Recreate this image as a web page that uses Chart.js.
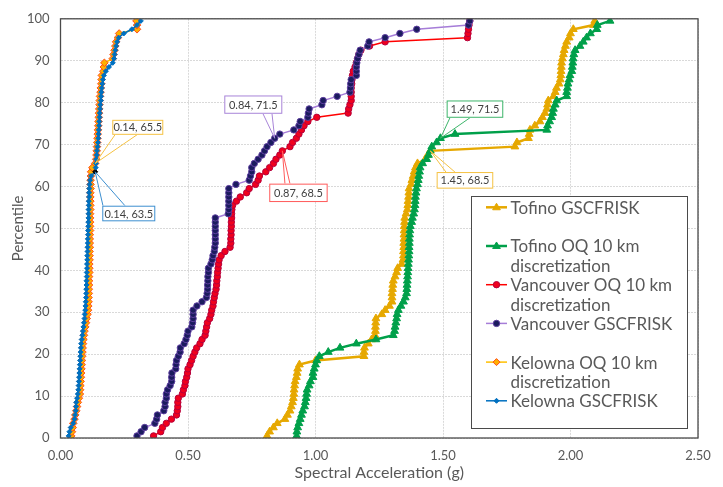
<!DOCTYPE html>
<html>
<head>
<meta charset="utf-8">
<script src="https://cdn.jsdelivr.net/npm/chart.js@4.4.1/dist/chart.umd.min.js"></script>
<style>
  html, body { margin: 0; padding: 0; background: #ffffff; }
  #c { display: block; }
</style>
</head>
<body>
<canvas id="c" width="723" height="487"></canvas>
<script>
// ---------------- DATA ----------------
const percentiles = [0.5,1.5,2.5,3.5,4.5,5.5,6.5,7.5,8.5,9.5,10.5,11.5,12.5,13.5,14.5,15.5,16.5,17.5,18.5,19.5,
  20.5,21.5,22.5,23.5,24.5,25.5,26.5,27.5,28.5,29.5,30.5,31.5,32.5,33.5,34.5,35.5,36.5,37.5,38.5,39.5,
  40.5,41.5,42.5,43.5,44.5,45.5,46.5,47.5,48.5,49.5,50.5,51.5,52.5,53.5,54.5,55.5,56.5,57.5,58.5,59.5,
  60.5,61.5,62.5,63.5,64.5,65.5,66.5,67.5,68.5,69.5,70.5,71.5,72.5,73.5,74.5,75.5,76.5,77.5,78.5,79.5,
  80.5,81.5,82.5,83.5,84.5,85.5,86.5,87.5,88.5,89.5,90.5,91.5,92.5,93.5,94.5,95.5,96.5,97.5,98.5,99.5];

const tofinoGSC = [0.81,0.82,0.835,0.85,0.88,0.89,0.90,0.905,0.91,0.913,
  0.915,0.916,0.918,0.92,0.925,0.928,0.93,0.937,1.00,1.19,
  1.19,1.192,1.207,1.22,1.233,1.235,1.235,1.236,1.237,1.26,
  1.273,1.29,1.30,1.30,1.30,1.302,1.303,1.305,1.312,1.318,
  1.322,1.338,1.343,1.345,1.345,1.346,1.346,1.347,1.347,1.348,
  1.348,1.349,1.35,1.355,1.36,1.362,1.363,1.365,1.366,1.367,
  1.375,1.378,1.383,1.387,1.392,1.40,1.43,1.44,1.45,1.782,
  1.79,1.835,1.838,1.841,1.86,1.88,1.89,1.90,1.907,1.91,
  1.913,1.933,1.94,1.945,1.955,1.96,1.962,1.963,1.964,1.965,
  1.968,1.972,1.975,1.98,1.985,1.995,2.0,2.011,2.09,2.095];

const tofinoOQ = [0.926,0.927,0.93,0.935,0.94,0.945,0.95,0.957,0.96,0.963,
  0.965,0.967,0.975,0.98,0.99,0.99,0.995,1.0,1.005,1.015,
  1.05,1.096,1.16,1.237,1.305,1.31,1.312,1.315,1.318,1.32,
  1.325,1.335,1.345,1.352,1.357,1.358,1.359,1.36,1.361,1.362,
  1.363,1.364,1.365,1.366,1.367,1.367,1.368,1.368,1.369,1.37,
  1.372,1.377,1.38,1.385,1.388,1.39,1.391,1.392,1.394,1.396,
  1.40,1.403,1.405,1.408,1.41,1.42,1.436,1.443,1.45,1.456,
  1.475,1.49,1.547,1.907,1.91,1.918,1.926,1.93,1.933,1.94,
  1.946,1.985,1.985,1.988,1.99,1.995,1.998,2.005,2.007,2.009,
  2.01,2.013,2.018,2.037,2.05,2.063,2.078,2.103,2.105,2.155];

const vancouverOQ = [0.365,0.393,0.40,0.415,0.435,0.455,0.458,0.46,0.46,0.462,
  0.478,0.482,0.488,0.49,0.495,0.498,0.50,0.508,0.514,0.52,
  0.527,0.534,0.547,0.555,0.567,0.57,0.573,0.576,0.585,0.59,
  0.593,0.598,0.60,0.603,0.606,0.61,0.612,0.613,0.615,0.616,
  0.618,0.62,0.622,0.63,0.645,0.665,0.668,0.668,0.669,0.669,
  0.67,0.67,0.671,0.671,0.672,0.675,0.69,0.705,0.73,0.74,
  0.765,0.775,0.78,0.805,0.82,0.835,0.845,0.86,0.87,0.90,
  0.91,0.925,0.935,0.945,0.955,0.97,1.005,1.128,1.13,1.135,
  1.14,1.14,1.14,1.14,1.142,1.143,1.145,1.148,1.155,1.16,
  1.165,1.17,1.178,1.212,1.273,1.596,1.598,1.60,1.602,1.605];

const vancouverGSC = [0.30,0.316,0.33,0.37,0.377,0.38,0.405,0.41,0.41,0.415,
  0.415,0.42,0.43,0.436,0.436,0.437,0.452,0.453,0.455,0.462,
  0.469,0.47,0.485,0.492,0.497,0.50,0.515,0.518,0.52,0.52,
  0.52,0.535,0.555,0.572,0.575,0.577,0.577,0.578,0.578,0.58,
  0.58,0.59,0.595,0.598,0.603,0.605,0.607,0.607,0.607,0.607,
  0.607,0.607,0.607,0.658,0.66,0.66,0.66,0.66,0.66,0.66,
  0.688,0.74,0.745,0.75,0.75,0.76,0.775,0.79,0.80,0.81,
  0.825,0.84,0.86,0.915,0.935,0.94,0.97,0.972,0.975,1.025,
  1.03,1.085,1.135,1.137,1.138,1.14,1.16,1.16,1.16,1.162,
  1.165,1.17,1.175,1.205,1.21,1.273,1.331,1.397,1.60,1.605];

const kelownaOQ = [0.042,0.045,0.048,0.05,0.055,0.058,0.062,0.065,0.068,0.072,
  0.076,0.077,0.078,0.079,0.08,0.081,0.082,0.083,0.084,0.085,
  0.086,0.087,0.088,0.09,0.092,0.094,0.097,0.10,0.103,0.106,
  0.108,0.109,0.11,0.11,0.111,0.111,0.112,0.112,0.112,0.113,
  0.113,0.113,0.114,0.114,0.114,0.115,0.115,0.115,0.115,0.116,
  0.116,0.116,0.116,0.116,0.117,0.117,0.117,0.117,0.117,0.118,
  0.118,0.118,0.119,0.12,0.125,0.136,0.14,0.141,0.142,0.143,
  0.144,0.145,0.146,0.147,0.148,0.149,0.15,0.151,0.152,0.153,
  0.154,0.155,0.157,0.158,0.16,0.161,0.162,0.168,0.17,0.172,
  0.205,0.208,0.212,0.215,0.218,0.225,0.23,0.30,0.30,0.298];

const kelownaGSC = [0.032,0.035,0.04,0.05,0.055,0.057,0.06,0.061,0.062,0.065,
  0.068,0.07,0.071,0.072,0.073,0.074,0.075,0.076,0.077,0.078,
  0.079,0.08,0.081,0.083,0.086,0.088,0.09,0.092,0.094,0.095,
  0.097,0.098,0.099,0.10,0.101,0.101,0.102,0.102,0.103,0.103,
  0.104,0.104,0.105,0.105,0.106,0.106,0.107,0.107,0.108,0.108,
  0.109,0.109,0.11,0.11,0.11,0.111,0.111,0.112,0.112,0.113,
  0.114,0.116,0.12,0.136,0.138,0.139,0.14,0.142,0.143,0.145,
  0.147,0.148,0.149,0.15,0.151,0.152,0.153,0.154,0.155,0.156,
  0.158,0.159,0.16,0.162,0.164,0.166,0.17,0.178,0.19,0.205,
  0.21,0.212,0.215,0.218,0.222,0.228,0.248,0.28,0.30,0.315];

const seriesNames = ['Tofino GSCFRISK', 'Tofino OQ 10 km discretization', 'Vancouver OQ 10 km discretization',
  'Vancouver GSCFRISK', 'Kelowna OQ 10 km discretization', 'Kelowna GSCFRISK'];
const xTicks = [0, 0.5, 1.0, 1.5, 2.0, 2.5];
const yTicks = [0, 10, 20, 30, 40, 50, 60, 70, 80, 90, 100];
const xTitle = 'Spectral Acceleration (g)';
const yTitle = 'Percentile';
// highlighted points with data labels: [series index, point index]
const labelledPoints = [[4, 65], [5, 63], [3, 71], [2, 68], [1, 71], [0, 68]];

// ---------------- STYLE ----------------
const FONT = 'Lato, "DejaVu Sans", sans-serif';
const GRAY = '#595959';
const styles = [
  { line: '#E6A800', fill: '#E6A800', border: '#E6A800', shape: 'triangle', r: 4.5, lw: 2.5, bw: 1 },
  { line: '#00A04A', fill: '#00A04A', border: '#00A04A', shape: 'triangle', r: 4.5, lw: 2.5, bw: 1 },
  { line: '#FF0000', fill: '#F0001E', border: '#B4003C', shape: 'circle', r: 3.2, lw: 1.5, bw: 1 },
  { line: '#A67DD8', fill: '#1B1B5E', border: '#5E3FA0', shape: 'circle', r: 3.2, lw: 1.5, bw: 1 },
  { line: '#FFC000', fill: '#FFB000', border: '#FF4E1A', shape: 'rectRot', r: 3.8, lw: 1.5, bw: 1 },
  { line: '#0070C0', fill: '#0070C0', border: '#0070C0', shape: 'rectRot', r: 2.5, lw: 1.5, bw: 1 }
];
const seriesValues = [tofinoGSC, tofinoOQ, vancouverOQ, vancouverGSC, kelownaOQ, kelownaGSC];

const datasets = seriesValues.map((vals, si) => {
  const st = styles[si];
  return {
    label: seriesNames[si],
    data: percentiles.map((p, i) => ({ x: vals[i], y: p })),
    showLine: true,
    borderColor: st.line,
    borderWidth: st.lw,
    pointStyle: st.shape,
    pointRadius: st.r,
    pointBorderWidth: st.bw,
    pointBackgroundColor: (ctx) => (si === 5 && ctx.dataIndex === 63) ? '#000000' : st.fill,
    pointBorderColor: (ctx) => (si === 5 && ctx.dataIndex === 63) ? '#000000' : st.border,
    fill: false,
    tension: 0,
    order: 6 - si
  };
});

// callout geometry relative to the labelled point: box offset, size, leader attach
const callouts = [
  { color: '#F5C242', dx: 17.1, dy: -43.6, w: 51, h: 15, edge: 'bottom', b1: 2.7, b2: 24.7 },
  { color: '#3D8FD0', dx: 7.1, dy: 33.9, w: 53, h: 15.6, edge: 'top', b1: 0.7, b2: 22.7 },
  { color: '#A884D8', dx: -50.4, dy: -42.8, w: 58, h: 18.3, edge: 'bottom', b1: 38.7, b2: 47.7 },
  { color: '#FF5A5A', dx: -13.1, dy: 32.8, w: 58.4, h: 18.4, edge: 'top', b1: 15.7, b2: 20.7 },
  { color: '#3DB56A', dx: 6.2, dy: -37.8, w: 56.6, h: 17.3, edge: 'bottom', b1: 3.3, b2: 23.3 },
  { color: '#F5C242', dx: 6.4, dy: 21.2, w: 56.6, h: 16.6, edge: 'top', b1: 9.3, b2: 18.3 }
];

function drawMarker(ctx, st, x, y) {
  ctx.save();
  ctx.fillStyle = st.fill;
  ctx.strokeStyle = st.border;
  ctx.lineWidth = st.bw;
  ctx.beginPath();
  const r = st.r;
  if (st.shape === 'circle') {
    ctx.arc(x, y, r, 0, Math.PI * 2);
  } else if (st.shape === 'triangle') {
    ctx.moveTo(x, y - r * 1.15);
    ctx.lineTo(x + r * 1.1, y + r * 0.7);
    ctx.lineTo(x - r * 1.1, y + r * 0.7);
    ctx.closePath();
  } else {
    ctx.moveTo(x, y - r);
    ctx.lineTo(x + r, y);
    ctx.lineTo(x, y + r);
    ctx.lineTo(x - r, y);
    ctx.closePath();
  }
  ctx.fill();
  ctx.stroke();
  ctx.restore();
}

const framePlugin = {
  id: 'frame',
  afterDatasetsDraw(chart) {
    const ctx = chart.ctx;
    const a = chart.chartArea;
    // data-label callouts
    labelledPoints.forEach((lp, i) => {
      const pt = chart.getDatasetMeta(lp[0]).data[lp[1]];
      const c = callouts[i];
      const px = pt.x, py = pt.y;
      const bx = px + c.dx, by = py + c.dy;
      const ey = c.edge === 'bottom' ? by + c.h : by;
      ctx.save();
      ctx.strokeStyle = c.color;
      ctx.lineWidth = 1;
      ctx.beginPath();
      ctx.moveTo(bx + c.b1, ey); ctx.lineTo(px, py);
      ctx.moveTo(bx + c.b2, ey); ctx.lineTo(px, py);
      ctx.stroke();
      ctx.fillStyle = '#ffffff';
      ctx.fillRect(bx, by, c.w, c.h);
      ctx.strokeRect(bx + 0.5, by + 0.5, c.w - 1, c.h - 1);
      const ds = chart.data.datasets[lp[0]].data[lp[1]];
      ctx.fillStyle = '#404040';
      ctx.font = '11px ' + FONT;
      ctx.textAlign = 'center';
      ctx.textBaseline = 'middle';
      ctx.fillText(ds.x.toFixed(2) + ', ' + ds.y, bx + c.w / 2, by + c.h / 2 + 0.5);
      ctx.restore();
    });
    // plot frame
    ctx.save();
    ctx.strokeStyle = '#4a4a4a';
    ctx.lineWidth = 1.3;
    ctx.strokeRect(a.left, a.top, a.right - a.left, a.bottom - a.top);
    ctx.restore();
  },
  afterDraw(chart) {
    const ctx = chart.ctx;
    // legend box
    const L = 471.5, T = 196.5, R = 687.5, B = 428.5;
    ctx.save();
    ctx.fillStyle = '#ffffff';
    ctx.fillRect(L, T, R - L, B - T);
    ctx.strokeStyle = '#4a4a4a';
    ctx.lineWidth = 1;
    ctx.strokeRect(L, T, R - L, B - T);
    const rowY = (n) => 207.3 + n * 19.35;
    const entries = [
      [0, ['Tofino GSCFRISK'], 0],
      [1, ['Tofino OQ 10 km', 'discretization'], 2],
      [2, ['Vancouver OQ 10 km', 'discretization'], 4],
      [3, ['Vancouver GSCFRISK'], 6],
      [4, ['Kelowna OQ 10 km', 'discretization'], 8],
      [5, ['Kelowna GSCFRISK'], 10]
    ];
    ctx.font = '17px ' + FONT;
    ctx.textBaseline = 'middle';
    ctx.textAlign = 'left';
    entries.forEach(e => {
      const st = styles[e[0]];
      const y = rowY(e[2]);
      ctx.strokeStyle = st.line;
      ctx.lineWidth = st.lw;
      ctx.beginPath();
      ctx.moveTo(486, y); ctx.lineTo(507, y);
      ctx.stroke();
      drawMarker(ctx, Object.assign({}, st, { r: Math.min(st.r, 3.5) }), 496.5, y);
      ctx.fillStyle = GRAY;
      e[1].forEach((t, k) => ctx.fillText(t, 510.5, rowY(e[2] + k) + 1));
    });
    ctx.restore();
  }
};

new Chart(document.getElementById('c'), {
  type: 'scatter',
  data: { datasets },
  options: {
    responsive: false,
    animation: false,
    events: [],
    layout: { padding: { left: 0, right: 25, top: 12, bottom: 0 } },
    plugins: { legend: { display: false }, tooltip: { enabled: false } },
    scales: {
      x: {
        type: 'linear', min: 0, max: 2.5,
        afterBuildTicks: (s) => { s.ticks = xTicks.map(v => ({ value: v })); },
        ticks: { color: GRAY, font: { family: FONT, size: 13 }, padding: 10, callback: (v) => Number(v).toFixed(2) },
        grid: { color: '#d9d9d9', lineWidth: 1, drawTicks: false },
        border: { display: false, dash: [2, 1] },
        title: { display: true, text: xTitle, color: GRAY, font: { family: FONT, size: 16 }, padding: { top: 0, bottom: 5 } },
        afterFit: (s) => { s.height = 49; }
      },
      y: {
        type: 'linear', min: 0, max: 100,
        afterBuildTicks: (s) => { s.ticks = yTicks.map(v => ({ value: v })); },
        ticks: { color: GRAY, font: { family: FONT, size: 13 }, padding: 11 },
        grid: { color: '#d9d9d9', lineWidth: 1, drawTicks: false },
        border: { display: false, dash: [2, 1] },
        title: { display: true, text: yTitle, color: GRAY, font: { family: FONT, size: 15 }, padding: { top: 9, bottom: 0 } },
        afterFit: (s) => { s.width = 60.5; }
      }
    }
  },
  plugins: [framePlugin]
});
</script>
</body>
</html>
